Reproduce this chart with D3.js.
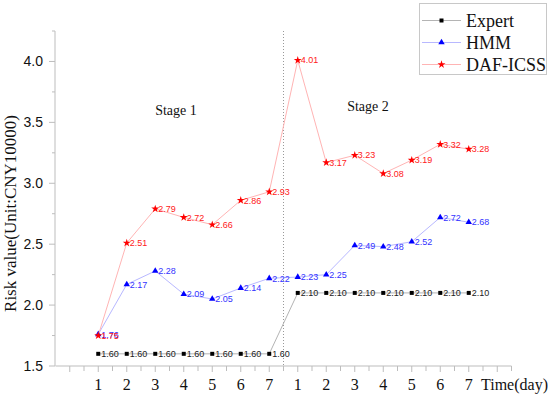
<!DOCTYPE html>
<html>
<head>
<meta charset="utf-8">
<script src="https://cdn.jsdelivr.net/npm/d3@7"></script>
<style>
  body { margin: 0; background: #fff; }
  svg { display: block; }
</style>
</head>
<body>
<div id="vis"></div>
<script>
// data
const dayLabels = ["1","2","3","4","5","6","7","1","2","3","4","5","6","7"];
const expert = [1.60,1.60,1.60,1.60,1.60,1.60,1.60,2.10,2.10,2.10,2.10,2.10,2.10,2.10];
const hmm = [1.76,2.17,2.28,2.09,2.05,2.14,2.22,2.23,2.25,2.49,2.48,2.52,2.72,2.68];
const dafIcss = [1.75,2.51,2.79,2.72,2.66,2.86,2.93,4.01,3.17,3.23,3.08,3.19,3.32,3.28];
const yTicks = [1.5, 2.0, 2.5, 3.0, 3.5, 4.0];

const series = [
  { name: "Expert", values: expert, line: "#b4b4b4", color: "#000", text: "#222", symbol: d3.symbolSquare, size: 16 },
  { name: "HMM", values: hmm, line: "#b8b8ff", color: "#0000ff", text: "#3333ff", symbol: d3.symbolTriangle, size: 18 },
  { name: "DAF-ICSS", values: dafIcss, line: "#ffb4b4", color: "#ff0000", text: "#ff2020", symbol: d3.symbolStar, size: 20 }
];

const svg = d3.select("#vis").append("svg")
  .attr("width", 550)
  .attr("height", 395);

const x = d3.scaleLinear().domain([-1.5, 14.5]).range([55.5, 511.5]);
const y = d3.scaleLinear().domain([1.5, 4.25]).range([366, 31]);

const axisColor = "#bdbdbd";

// y axis
const yAxis = svg.append("g").attr("transform", "translate(55,0)");
yAxis.append("line")
  .attr("y1", y(1.5)).attr("y2", y(4.25))
  .attr("stroke", axisColor);
yAxis.selectAll(".minor")
  .data(d3.range(1.75, 4.3, 0.5))
  .join("line")
  .attr("x1", -3).attr("x2", 0)
  .attr("y1", d => y(d)).attr("y2", d => y(d))
  .attr("stroke", axisColor);
yAxis.selectAll(".major")
  .data(yTicks)
  .join("line")
  .attr("x1", -6).attr("x2", 0)
  .attr("y1", d => y(d)).attr("y2", d => y(d))
  .attr("stroke", axisColor);
yAxis.selectAll("text")
  .data(yTicks)
  .join("text")
  .attr("x", -12)
  .attr("y", d => y(d))
  .attr("dy", "0.36em")
  .attr("text-anchor", "end")
  .attr("font-family", "Liberation Sans, Arial, sans-serif")
  .attr("font-size", 14)
  .attr("fill", "#111")
  .text(d => d.toFixed(1));

// x axis
const xAxis = svg.append("g").attr("transform", `translate(0,${y(1.5)})`);
xAxis.append("line")
  .attr("x1", x(-1.5)).attr("x2", x(14.5))
  .attr("stroke", axisColor);
xAxis.selectAll(".tick")
  .data(d3.range(-1, 14.6, 0.5))
  .join("line")
  .attr("x1", d => x(d)).attr("x2", d => x(d))
  .attr("y1", 0).attr("y2", d => Number.isInteger(d) ? 6 : 5)
  .attr("stroke", axisColor);
xAxis.selectAll("text")
  .data(dayLabels)
  .join("text")
  .attr("x", (d, i) => x(i))
  .attr("y", 24)
  .attr("text-anchor", "middle")
  .attr("font-family", "Liberation Serif, Times New Roman, serif")
  .attr("font-size", 16)
  .attr("fill", "#111")
  .text(d => d);
xAxis.append("text")
  .attr("x", 481)
  .attr("y", 24)
  .attr("font-family", "Liberation Serif, Times New Roman, serif")
  .attr("font-size", 16)
  .attr("fill", "#111")
  .text("Time(day)");

// y axis title
svg.append("text")
  .attr("transform", `translate(16,${(y(1.5) + y(4.25)) / 2 + 15}) rotate(-90)`)
  .attr("text-anchor", "middle")
  .attr("font-family", "Liberation Serif, Times New Roman, serif")
  .attr("font-size", 17)
  .attr("fill", "#111")
  .text("Risk value(Unit:CNY10000)");

// stage divider
svg.append("line")
  .attr("x1", x(6.5)).attr("x2", x(6.5))
  .attr("y1", y(4.25)).attr("y2", y(1.5))
  .attr("stroke", "#999")
  .attr("stroke-dasharray", "1,2");

svg.append("text")
  .attr("x", 176).attr("y", 115)
  .attr("text-anchor", "middle")
  .attr("font-family", "Liberation Serif, Times New Roman, serif")
  .attr("font-size", 14)
  .attr("fill", "#111")
  .text("Stage 1");
svg.append("text")
  .attr("x", 368).attr("y", 111)
  .attr("text-anchor", "middle")
  .attr("font-family", "Liberation Serif, Times New Roman, serif")
  .attr("font-size", 14)
  .attr("fill", "#111")
  .text("Stage 2");

// series
const line = d3.line()
  .x((d, i) => x(i))
  .y(d => y(d));

series.forEach(s => {
  const g = svg.append("g");
  g.append("path")
    .datum(s.values)
    .attr("fill", "none")
    .attr("stroke", s.line)
    .attr("stroke-width", 1)
    .attr("d", line);
  g.selectAll("path.m")
    .data(s.values)
    .join("path")
    .attr("class", "m")
    .attr("transform", (d, i) => `translate(${x(i)},${y(d)})`)
    .attr("d", d3.symbol().type(s.symbol).size(s.size))
    .attr("fill", s.color);
  g.selectAll("text")
    .data(s.values)
    .join("text")
    .attr("x", (d, i) => x(i) + 3)
    .attr("y", d => y(d))
    .attr("dy", "0.36em")
    .attr("font-family", "Liberation Sans, Arial, sans-serif")
    .attr("font-size", 9)
    .attr("fill", s.text)
    .text(d => d.toFixed(2));
});

// legend
const legend = svg.append("g");
legend.append("rect")
  .attr("x", 419.5).attr("y", 3.5)
  .attr("width", 127).attr("height", 71)
  .attr("fill", "#fff")
  .attr("stroke", "#c8c8c8");
series.forEach((s, i) => {
  const ly = 20.5 + i * 22;
  legend.append("line")
    .attr("x1", 422).attr("x2", 461)
    .attr("y1", ly).attr("y2", ly)
    .attr("stroke", s.line);
  legend.append("path")
    .attr("transform", `translate(441.5,${ly})`)
    .attr("d", d3.symbol().type(s.symbol).size(s.size))
    .attr("fill", s.color);
  legend.append("text")
    .attr("x", 466)
    .attr("y", ly)
    .attr("dy", "0.35em")
    .attr("font-family", "Liberation Serif, Times New Roman, serif")
    .attr("font-size", 18)
    .attr("fill", "#111")
    .text(s.name);
});
</script>
</body>
</html>
